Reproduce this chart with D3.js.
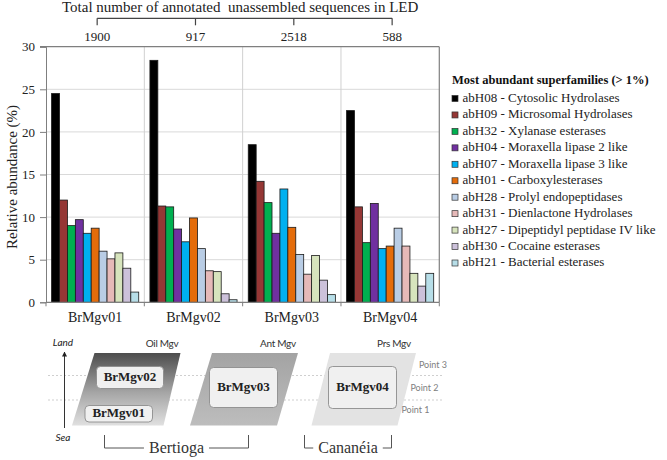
<!DOCTYPE html>
<html>
<head>
<meta charset="utf-8">
<script src="https://cdn.jsdelivr.net/npm/d3@7"></script>
<style>
  html, body { margin: 0; padding: 0; background: #fff; }
  svg { display: block; }
  text { font-family: "Liberation Serif", "Times New Roman", serif; }
</style>
</head>
<body>
<svg id="chart" width="667" height="460"></svg>
<script>
// ---- data ----
const samples = ["BrMgv01", "BrMgv02", "BrMgv03", "BrMgv04"];
const totals = [1900, 917, 2518, 588];
const familyCodes = ["abH08", "abH09", "abH32", "abH04", "abH07", "abH01", "abH28", "abH31", "abH27", "abH30", "abH21"];
const familyNames = ["Cytosolic Hydrolases", "Microsomal Hydrolases", "Xylanase esterases", "Moraxella lipase 2 like",
  "Moraxella lipase 3 like", "Carboxylesterases", "Prolyl endopeptidases", "Dienlactone Hydrolases",
  "Dipeptidyl peptidase IV like", "Cocaine esterases", "Bacterial esterases"];
const brMgv01 = [24.5, 12.0, 9.0, 9.7, 8.1, 8.7, 6.0, 5.1, 5.8, 4.0, 1.2];
const brMgv02 = [28.4, 11.3, 11.2, 8.6, 7.1, 9.9, 6.3, 3.7, 3.6, 1.0, 0.3];
const brMgv03 = [18.5, 14.2, 11.7, 8.1, 13.3, 8.8, 5.6, 3.3, 5.5, 2.6, 0.9];
const brMgv04 = [22.5, 11.2, 7.0, 11.6, 6.3, 6.6, 8.7, 6.6, 3.4, 1.9, 3.4];
const sampleValues = [brMgv01, brMgv02, brMgv03, brMgv04];
const yTicks = [0, 5, 10, 15, 20, 25, 30];
const colors = ["#000000", "#953735", "#00B050", "#7030A0", "#00B0F0", "#E46C0A",
  "#B9CDE5", "#E6B9B8", "#D7E4BD", "#CCC1DA", "#B7DEE8"];

// diagram labels
const sites = ["Oil Mgv", "Ant Mgv", "Prs Mgv"];
const points = ["Point 3", "Point 2", "Point 1"];
const regions = ["Bertioga", "Cananéia"];

(function () {
const svg = d3.select("#chart");

// ---- scales ----
const pL = 46, pR = 439.3, pT = 46.7, pB = 302.3;
const x0 = d3.scaleBand().domain(samples).range([pL, pR]).paddingInner(0).paddingOuter(0);
const x1 = d3.scaleBand().domain(familyCodes).range([5.6, x0.bandwidth() - 5.6]).padding(0);
const y = d3.scaleLinear().domain([0, 30]).range([pB, pT]);
const color = d3.scaleOrdinal().domain(familyCodes).range(colors);

// ---- grid ----
const grid = svg.append("g");
grid.selectAll("line.h").data(yTicks.filter(t => t > 0 && t < 30)).join("line")
  .attr("x1", pL).attr("x2", pR).attr("y1", d => y(d)).attr("y2", d => y(d))
  .attr("stroke", "#d9d9d9").attr("stroke-width", 1);
grid.selectAll("line.v").data(samples.slice(1)).join("line")
  .attr("x1", d => x0(d)).attr("x2", d => x0(d)).attr("y1", pT).attr("y2", pB)
  .attr("stroke", "#d0d0d0").attr("stroke-width", 1);
grid.append("line").attr("x1", pL - 6).attr("x2", pR).attr("y1", y(30)).attr("y2", y(30))
  .attr("stroke", "#7f7f7f").attr("stroke-width", 1.2);
grid.append("line").attr("x1", pR).attr("x2", pR).attr("y1", pT).attr("y2", pB)
  .attr("stroke", "#7f7f7f").attr("stroke-width", 1.2);

// ---- bars ----
const groups = svg.append("g").selectAll("g").data(samples).join("g")
  .attr("transform", d => `translate(${x0(d)},0)`);
groups.selectAll("rect")
  .data((s, i) => familyCodes.map((f, j) => ({ f, v: sampleValues[i][j] })))
  .join("rect")
  .attr("x", d => x1(d.f)).attr("width", x1.bandwidth())
  .attr("y", d => y(d.v)).attr("height", d => y(0) - y(d.v))
  .attr("fill", d => color(d.f)).attr("stroke", "#1a1a1a").attr("stroke-width", 0.8);

// ---- y axis ----
const yAxis = svg.append("g").attr("transform", `translate(${pL},0)`)
  .call(d3.axisLeft(y).tickValues(yTicks).tickSize(6).tickPadding(5).tickFormat(d3.format("d")));
yAxis.select(".domain").attr("stroke", "#7f7f7f");
yAxis.selectAll(".tick line").attr("stroke", "#7f7f7f");
yAxis.selectAll(".tick text").attr("font-size", 13).attr("fill", "#222")
  .style("font-family", "'Liberation Serif', serif");

svg.append("text").attr("transform", `translate(14,177) rotate(-90)`)
  .attr("text-anchor", "middle").attr("dominant-baseline", "middle")
  .attr("font-size", 15).attr("fill", "#222").text("Relative abundance (%)");

// ---- x axis bottom ----
const xAxis = svg.append("g").attr("transform", `translate(0,${pB})`);
xAxis.append("line").attr("x1", pL).attr("x2", pR).attr("y1", 0).attr("y2", 0)
  .attr("stroke", "#7f7f7f").attr("stroke-width", 1.2);
xAxis.selectAll("line.tk").data(samples.concat(["end"])).join("line")
  .attr("x1", (d, i) => i < samples.length ? x0(d) : pR)
  .attr("x2", (d, i) => i < samples.length ? x0(d) : pR)
  .attr("y1", 0).attr("y2", 4).attr("stroke", "#7f7f7f");
xAxis.selectAll("text").data(samples).join("text")
  .attr("x", d => x0(d) + x0.bandwidth() / 2).attr("y", 16)
  .attr("text-anchor", "middle").attr("dominant-baseline", "middle")
  .attr("font-size", 14).attr("fill", "#222").text(d => d);

// ---- top axis (totals) ----
const topAxisY = 18.3;
const cx = d => x0(d) + x0.bandwidth() / 2 + 2;
svg.append("line").attr("x1", cx(samples[0])).attr("x2", cx(samples[samples.length - 1]))
  .attr("y1", topAxisY).attr("y2", topAxisY).attr("stroke", "#444").attr("stroke-width", 1.2);
svg.append("g").selectAll("line").data(samples).join("line")
  .attr("x1", cx).attr("x2", cx).attr("y1", topAxisY).attr("y2", topAxisY + 7)
  .attr("stroke", "#444").attr("stroke-width", 1.2);
svg.append("g").selectAll("text").data(samples).join("text")
  .attr("x", cx).attr("y", 38.5).attr("text-anchor", "middle").attr("dominant-baseline", "middle")
  .attr("font-size", 13).attr("fill", "#222").text((d, i) => totals[i]);
svg.append("text").attr("x", 62).attr("y", 8.5).attr("dominant-baseline", "middle")
  .attr("font-size", 15).attr("fill", "#222").style("white-space", "pre")
  .text("Total number of annotated  unassembled sequences in LED");

// ---- legend ----
const legend = svg.append("g");
legend.append("text").attr("x", 452).attr("y", 81).attr("dominant-baseline", "middle")
  .attr("font-size", 12.5).attr("font-weight", "bold").attr("fill", "#111")
  .text("Most abundant superfamilies (> 1%)");
const li = legend.selectAll("g.item").data(familyCodes).join("g")
  .attr("transform", (d, i) => `translate(452,${98.5 + i * 16.45})`);
li.append("rect").attr("x", 0).attr("y", -3).attr("width", 6).attr("height", 6)
  .attr("fill", d => color(d)).attr("stroke", "#333").attr("stroke-width", 0.7);
li.append("text").attr("x", 10.5).attr("y", 0.5).attr("dominant-baseline", "middle")
  .attr("font-size", 13).attr("fill", "#222")
  .text((d, i) => `${d} - ${familyNames[i]}`);

// ---- bottom diagram ----
const diag = svg.append("g");
const sans = "Lato, 'Open Sans', sans-serif";
[375.5, 400].forEach(yy => {
  diag.append("line").attr("x1", 48).attr("x2", 444).attr("y1", yy).attr("y2", yy)
    .attr("stroke", "#cfcfcf").attr("stroke-dasharray", "2,2").attr("stroke-width", 1);
});
const defs = svg.append("defs");
const g1 = defs.append("linearGradient").attr("id", "gOil").attr("x1", 0).attr("y1", 0).attr("x2", 0).attr("y2", 1);
g1.append("stop").attr("offset", "0%").attr("stop-color", "#4d4d4d");
g1.append("stop").attr("offset", "55%").attr("stop-color", "#a6a6a6");
g1.append("stop").attr("offset", "100%").attr("stop-color", "#e0e0e0");
const g2 = defs.append("linearGradient").attr("id", "gAnt").attr("x1", 0).attr("y1", 0).attr("x2", 0).attr("y2", 1);
g2.append("stop").attr("offset", "0%").attr("stop-color", "#a3a3a3");
g2.append("stop").attr("offset", "100%").attr("stop-color", "#bdbdbd");

const paras = [
  { pts: [[94.5, 353], [180.5, 353], [163.5, 425.5], [72, 425.5]], fill: "url(#gOil)", label: sites[0], lx: 162 },
  { pts: [[212, 353], [298, 353], [277, 425.5], [190, 425.5]], fill: "url(#gAnt)", label: sites[1], lx: 278 },
  { pts: [[330, 353], [416, 353], [397.5, 425.5], [311.5, 425.5]], fill: "#e3e3e3", label: sites[2], lx: 394 }
];
paras.forEach(p => {
  diag.append("polygon").attr("points", p.pts.map(q => q.join(",")).join(" ")).attr("fill", p.fill);
  diag.append("text").attr("x", p.lx).attr("y", 344.5).attr("text-anchor", "middle")
    .attr("dominant-baseline", "middle").attr("font-size", 10).attr("fill", "#333")
    .style("font-family", sans).style("letter-spacing", "-0.3px").text(p.label);
});
const boxes = [
  { x: 96.5, y: 366.5, w: 67, h: 22, label: samples[1] },
  { x: 85, y: 405.5, w: 67.5, h: 16.5, label: samples[0] },
  { x: 209.5, y: 367.5, w: 68, h: 40, label: samples[2] },
  { x: 328.5, y: 366.5, w: 68, h: 42, label: samples[3] }
];
boxes.forEach(b => {
  diag.append("rect").attr("x", b.x).attr("y", b.y).attr("width", b.w).attr("height", b.h)
    .attr("rx", 4).attr("fill", "#f0f0f0").attr("stroke", "#8c8c8c").attr("stroke-width", 0.9);
  diag.append("text").attr("x", b.x + b.w / 2).attr("y", b.y + b.h / 2 + 0.5)
    .attr("text-anchor", "middle").attr("dominant-baseline", "middle")
    .attr("font-size", 13).attr("font-weight", "bold").attr("fill", "#222").text(b.label);
});
[[433, 366], [424.5, 389], [415.5, 411]].forEach((p, i) => {
  diag.append("text").attr("x", p[0]).attr("y", p[1]).attr("text-anchor", "middle")
    .attr("dominant-baseline", "middle").attr("font-size", 9).attr("fill", "#808080")
    .style("font-family", sans).text(points[i]);
});
defs.append("marker").attr("id", "arr").attr("viewBox", "0 0 10 10").attr("refX", 9).attr("refY", 5)
  .attr("markerWidth", 5).attr("markerHeight", 6).attr("orient", "auto")
  .append("path").attr("d", "M0,0 L10,5 L0,10 z").attr("fill", "#222");
diag.append("line").attr("x1", 64.5).attr("x2", 64.5).attr("y1", 428).attr("y2", 352)
  .attr("stroke", "#333").attr("stroke-width", 1).attr("marker-end", "url(#arr)");
diag.append("text").attr("x", 63).attr("y", 343).attr("text-anchor", "middle").attr("dominant-baseline", "middle")
  .attr("font-size", 10).attr("font-style", "italic").attr("fill", "#222").style("font-family", sans).text("Land");
diag.append("text").attr("x", 63).attr("y", 438.5).attr("text-anchor", "middle").attr("dominant-baseline", "middle")
  .attr("font-size", 10).attr("font-style", "italic").attr("fill", "#222").style("font-family", sans).text("Sea");

const brackets = [
  { x1: 104.5, x2: 248.5, label: regions[0] },
  { x1: 304.5, x2: 391.5, label: regions[1] }
];
brackets.forEach(b => {
  const mid = (b.x1 + b.x2) / 2;
  const t = diag.append("text").attr("x", mid).attr("y", 449).attr("text-anchor", "middle")
    .attr("dominant-baseline", "middle").attr("font-size", 16).attr("fill", "#333").text(b.label);
  const w = t.node().getComputedTextLength();
  diag.append("path").attr("d", `M${b.x1},435 V448 H${mid - w / 2 - 5} M${mid + w / 2 + 5},448 H${b.x2} V435`)
    .attr("fill", "none").attr("stroke", "#555").attr("stroke-width", 1);
});
})();
</script>
</body>
</html>
